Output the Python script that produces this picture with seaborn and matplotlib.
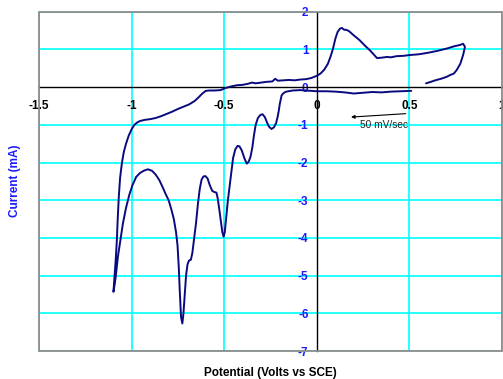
import matplotlib
matplotlib.use("Agg")
import matplotlib.pyplot as plt
from matplotlib.patches import Rectangle
import pandas as pd
import seaborn as sns

# Cyclic voltammogram, 50 mV/sec, sweep starting at +0.5 V toward negative potentials
potential = [
    0.51, 0.45, 0.40, 0.35, 0.30, 0.25, 0.20, 0.15, 0.10, 0.05, 0.00, -0.03, -0.06,
    -0.09, -0.13, -0.165, -0.18, -0.19, -0.20, -0.205, -0.212, -0.22, -0.232, -0.245,
    -0.258, -0.268, -0.28, -0.293, -0.305, -0.318, -0.33, -0.34, -0.348, -0.358, -0.368,
    -0.378, -0.39, -0.405, -0.418, -0.428, -0.44, -0.452, -0.46, -0.47, -0.48, -0.49,
    -0.497, -0.503, -0.51, -0.518, -0.525, -0.535, -0.542, -0.555, -0.565, -0.578,
    -0.59, -0.602, -0.612, -0.622, -0.632, -0.642, -0.652, -0.662, -0.672, -0.68,
    -0.69, -0.698, -0.706, -0.713, -0.72, -0.726, -0.733, -0.74, -0.745, -0.752,
    -0.76, -0.772, -0.785, -0.80, -0.815, -0.83, -0.85, -0.87, -0.89, -0.912, -0.935,
    -0.955, -0.975, -0.995, -1.012, -1.03, -1.047, -1.062, -1.074, -1.085, -1.092,
    -1.098,
    -1.093, -1.086, -1.08, -1.075, -1.069, -1.062, -1.052, -1.042, -1.03, -1.015,
    -1.0, -0.985, -0.97, -0.955, -0.93, -0.90, -0.87, -0.84, -0.81, -0.78, -0.75,
    -0.72, -0.69, -0.66, -0.64, -0.62, -0.60, -0.58, -0.55, -0.52, -0.49, -0.46,
    -0.43, -0.40, -0.37, -0.35, -0.33, -0.30, -0.27, -0.24, -0.225, -0.21, -0.18,
    -0.15, -0.12, -0.09, -0.06, -0.03, 0.0, 0.02, 0.04, 0.06, 0.075, 0.088, 0.10,
    0.112, 0.125, 0.135, 0.148, 0.16, 0.175, 0.20, 0.23, 0.26, 0.29, 0.31, 0.325,
    0.35, 0.38, 0.40, 0.43, 0.47, 0.50, 0.55, 0.60, 0.65, 0.70, 0.74, 0.775, 0.79,
    0.80, 0.79, 0.775, 0.755, 0.74, 0.72, 0.70, 0.67, 0.64, 0.61, 0.59,
]
current = [
    -0.10, -0.11, -0.12, -0.14, -0.13, -0.15, -0.17, -0.14, -0.12, -0.11, -0.11, -0.10, -0.09,
    -0.08, -0.09, -0.12, -0.16, -0.22, -0.45, -0.62, -0.80, -0.96, -1.07, -1.11,
    -1.05, -0.95, -0.80, -0.72, -0.74, -0.82, -1.0, -1.3, -1.6, -1.85, -1.98,
    -2.03, -1.9, -1.68, -1.57, -1.56, -1.65, -1.88, -2.2, -2.6, -3.0, -3.5,
    -3.85, -3.97, -3.85, -3.55, -3.3, -2.95, -2.8, -2.78, -2.75, -2.6,
    -2.42, -2.36, -2.37, -2.45, -2.7, -3.1, -3.6, -4.0, -4.4, -4.58,
    -4.6, -4.7, -5.0, -5.5, -6.0, -6.27, -6.1, -5.4, -4.8, -4.2,
    -3.85, -3.5, -3.25, -3.0, -2.85, -2.68, -2.47, -2.32, -2.22, -2.18, -2.22,
    -2.28, -2.38, -2.6, -2.85, -3.2, -3.62, -4.1, -4.5, -5.0, -5.25,
    -5.43,
    -5.1, -4.6, -4.1, -3.5, -2.9, -2.4, -2.0, -1.72, -1.5, -1.28,
    -1.12, -1.0, -0.94, -0.9, -0.87, -0.85, -0.82, -0.77, -0.71, -0.65, -0.58,
    -0.52, -0.46, -0.37, -0.28, -0.18, -0.1, -0.09, -0.09, -0.08, -0.02, 0.02,
    0.05, 0.06, 0.09, 0.12, 0.10, 0.12, 0.14, 0.15, 0.22, 0.17, 0.18,
    0.19, 0.18, 0.20, 0.21, 0.24, 0.30, 0.36, 0.46, 0.62, 0.82, 1.03, 1.28,
    1.46, 1.55, 1.57, 1.52, 1.52, 1.48, 1.37, 1.25, 1.10, 0.96, 0.85, 0.77,
    0.78, 0.80, 0.79, 0.82, 0.83, 0.85, 0.87, 0.91, 0.96, 1.02, 1.08, 1.12, 1.15,
    1.07, 0.85, 0.62, 0.45, 0.36, 0.32, 0.27, 0.22, 0.18, 0.13, 0.10,
]

x_ticks = [-1.5, -1.0, -0.5, 0.0, 0.5, 1.0]
x_tick_labels = ["-1.5", "-1", "-0.5", "0", "0.5", "1"]
y_ticks = [2, 1, 0, -1, -2, -3, -4, -5, -6, -7]

df = pd.DataFrame({"Potential": potential, "Current": current})

sns.set_style("white")
plt.rcParams["font.family"] = ["Liberation Sans", "DejaVu Sans"]

fig = plt.figure(figsize=(5.03, 3.79), dpi=100)
ax = fig.add_axes([39 / 503, 1 - 351 / 379, 463 / 503, (351 - 11.7) / 379])

ax.set_xlim(-1.5, 1.0)
ax.set_ylim(-7, 2)

# cyan gridlines (the zero lines are drawn as black axes instead)
for xv in x_ticks:
    if xv != 0:
        ax.axvline(xv, color="#00ffff", lw=1.2, zorder=0)
for yv in y_ticks:
    if yv != 0:
        ax.axhline(yv, color="#00ffff", lw=1.2, zorder=0)

sns.lineplot(data=df, x="Potential", y="Current", sort=False, estimator=None,
             color="#0a0a80", lw=1.4, ax=ax, zorder=3)

# axis lines crossing at the origin
ax.spines["left"].set_position(("data", 0))
ax.spines["bottom"].set_position(("data", 0))
for side in ("left", "bottom"):
    ax.spines[side].set_color("black")
    ax.spines[side].set_linewidth(1.0)
    ax.spines[side].set_zorder(2)
for side in ("top", "right"):
    ax.spines[side].set_visible(False)

# grey plot-area frame
ax.add_patch(Rectangle((0, 0), 1, 1, transform=ax.transAxes, fill=False,
                       edgecolor="#8c8c8c", lw=1.3, clip_on=False, zorder=4))

ax.set_xticks(x_ticks)
ax.set_xticklabels(x_tick_labels, fontsize=8.5, fontweight="bold", color="black")
ax.set_yticks(y_ticks)
ax.set_yticklabels([str(v) for v in y_ticks], fontsize=8.5, fontweight="bold",
                   color="#1a1aff")
ax.tick_params(axis="x", direction="out", length=3, width=1, pad=6, colors="black")
ax.tick_params(axis="y", direction="out", length=3, width=1, pad=3)
for lab in ax.get_yticklabels():
    lab.set_color("#1a1aff")

ax.set_xlabel("")
ax.set_ylabel("")
fig.text(270 / 503, 1 - 373 / 379, "Potential (Volts vs SCE)", ha="center",
         va="center", fontsize=8.5, fontweight="bold", color="black")
fig.text(15 / 503, 1 - 181 / 379, "Current (mA)", ha="center", va="center",
         rotation=90, fontsize=8.5, fontweight="bold", color="#1a1aff")

# scan-rate annotation
ax.annotate("", xy=(0.17, -0.80), xytext=(0.495, -0.70),
            arrowprops=dict(arrowstyle="-|>", color="black", lw=0.8,
                            mutation_scale=5))
ax.text(0.362, -1.01, "50 mV/sec", ha="center", va="center", fontsize=7.3,
        color="#222222")

fig.savefig("out.png", dpi=100)
